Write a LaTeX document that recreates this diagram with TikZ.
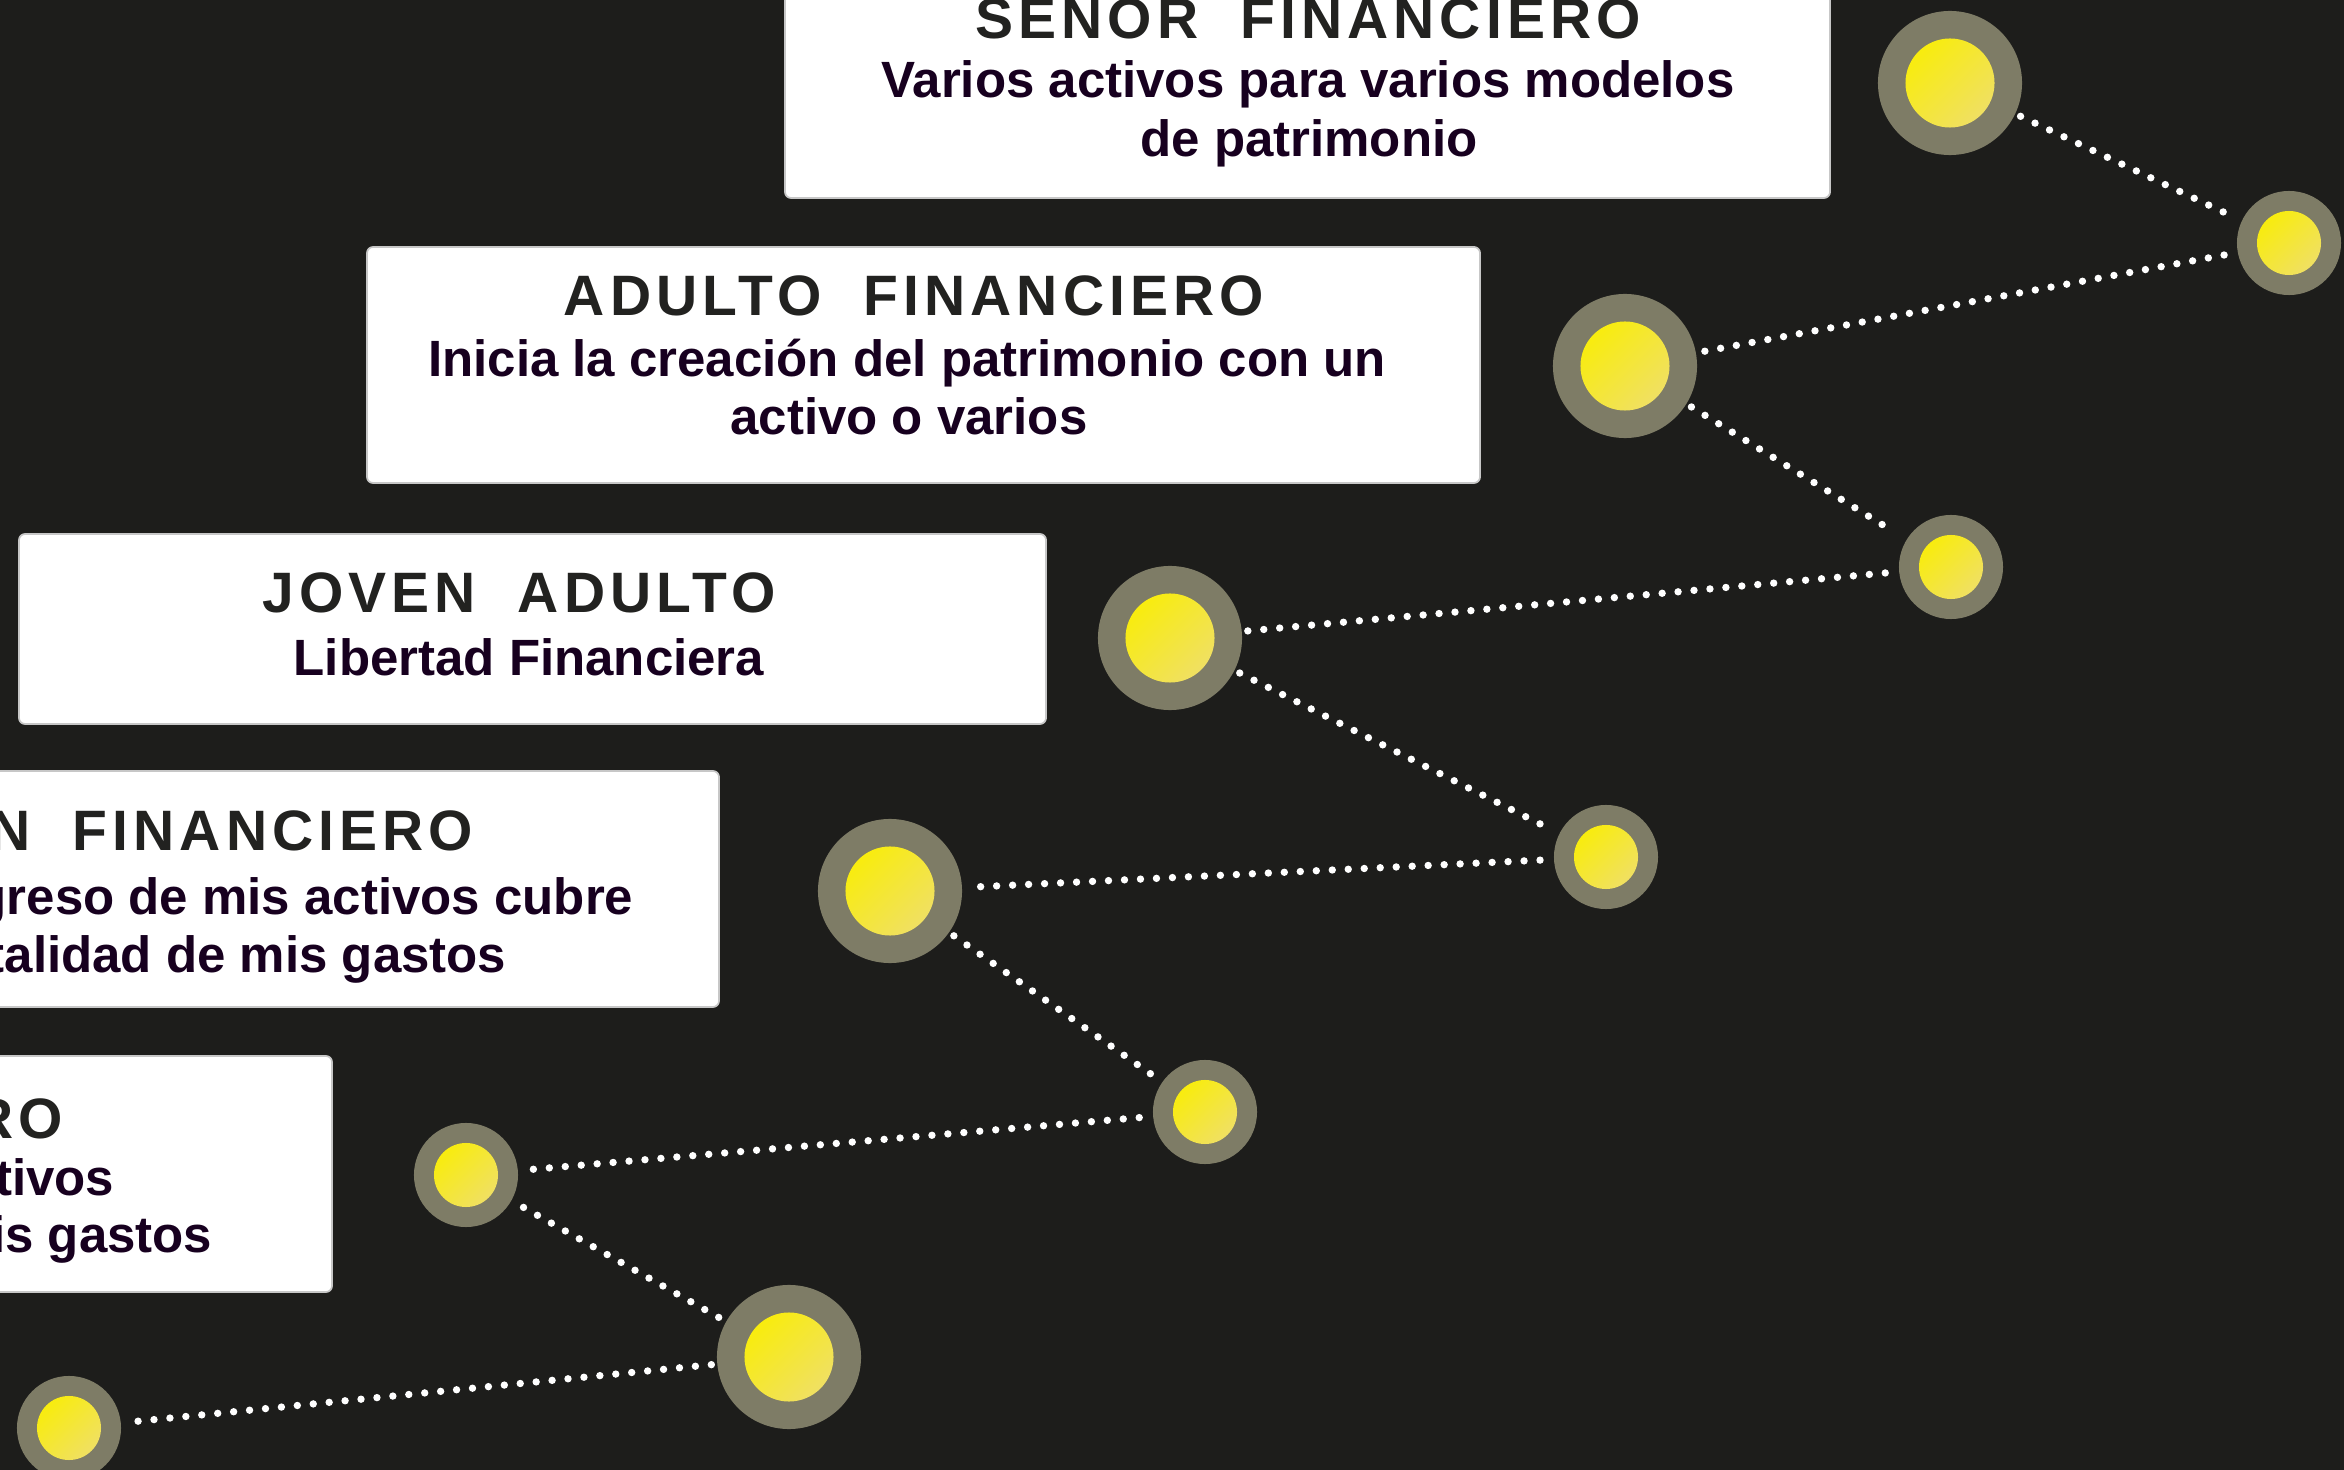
\documentclass[tikz,border=0pt]{standalone}
\usepackage{fontspec}
\setmainfont{Liberation Sans}
\newfontfamily\ttlfont[LetterSpace=9]{Liberation Sans}
\definecolor{bgc}{HTML}{1D1D1B}
\definecolor{ringc}{HTML}{7E7C66}
\definecolor{yelA}{HTML}{F8EC0E}
\definecolor{yelB}{HTML}{F0E062}
\definecolor{ttlc}{HTML}{222220}
\definecolor{subc}{HTML}{17001F}
\tikzset{
  card/.style={fill=white, draw=black!22, line width=0.5pt, rounded corners=0.06cm},
  ttl/.style={text=ttlc, font=\ttlfont\bfseries\fontsize{16.2}{19}\selectfont, inner sep=0pt},
  sub/.style={text=subc, font=\bfseries\fontsize{14.5}{17}\selectfont, inner sep=0pt},
  bigring/.style={circle, fill=ringc, minimum size=1.44cm, inner sep=0pt, outer sep=0.06cm},
  bigcore/.style={circle, top color=yelA, bottom color=yelB, shading angle=45, minimum size=0.89cm, inner sep=0pt},
  smallring/.style={circle, fill=ringc, minimum size=1.04cm, inner sep=0pt, outer sep=0.14cm},
  smallcore/.style={circle, top color=yelA, bottom color=yelB, shading angle=45, minimum size=0.64cm, inner sep=0pt},
  dots/.style={draw=white, line width=2.1pt, line cap=round, dash pattern=on 0pt off 4.55pt}
}
\begin{document}
\begin{tikzpicture}[x=0.01cm, y=-0.01cm]
\useasboundingbox (0,0) rectangle (2344,1470);
\fill[bgc] (0,0) rectangle (2344,1470);

% cards
\draw[card] (785,-30) rectangle (1830,198);
\draw[card] (367,247) rectangle (1480,483);
\draw[card] (19,534) rectangle (1046,724);
\draw[card] (-40,771) rectangle (719,1007);
\draw[card] (-40,1056) rectangle (332,1292);

% texts card 1
\node[ttl, anchor=base] (t1) at (1308,39) {SENOR~~FINANCIERO};
\node[sub, anchor=base] (s1a) at (1308,98) {Varios activos para varios modelos};
\node[sub, anchor=base] (s1b) at (1309,157) {de patrimonio};
% card 2
\node[ttl, anchor=base] (t2) at (914,316) {ADULTO~~FINANCIERO};
\node[sub, anchor=base] (s2a) at (907,377) {Inicia la creación del patrimonio con un};
\node[sub, anchor=base] (s2b) at (909,435) {activo o varios};
% card 3
\node[ttl, anchor=base] (t3) at (519,613) {JOVEN~~ADULTO};
\node[sub, anchor=base] (s3a) at (529,676) {Libertad Financiera};
% card 4
\node[ttl, anchor=base east] (t4) at (474,851) {N~~FINANCIERO};
\node[sub, anchor=base east] (s4a) at (634,915) {greso de mis activos cubre};
\node[sub, anchor=base east] (s4b) at (507,972) {talidad de mis gastos};
% card 5
\node[ttl, anchor=base east] (t5) at (64,1139) {RO};
\node[sub, anchor=base east] (s5a) at (115,1195) {tivos};
\node[sub, anchor=base east] (s5b) at (213,1252) {is gastos};

% circles
\node[bigring]   (c1)  at (1950,83) {};
\node[smallring] (c2)  at (2289,243) {};
\node[bigring]   (c3)  at (1625,366) {};
\node[smallring] (c4)  at (1951,567) {};
\node[bigring]   (c5)  at (1170,638) {};
\node[smallring] (c6)  at (1606,857) {};
\node[bigring]   (c7)  at (890,891) {};
\node[smallring] (c8)  at (1205,1112) {};
\node[smallring] (c9)  at (466,1175) {};
\node[bigring]   (c10) at (789,1357) {};
\node[smallring] (c11) at (69,1428) {};

\node[bigcore]   (y1)  at (c1.center) {};
\node[smallcore] (y2)  at (c2.center) {};
\node[bigcore]   (y3)  at (c3.center) {};
\node[smallcore] (y4)  at (c4.center) {};
\node[bigcore]   (y5)  at (c5.center) {};
\node[smallcore] (y6)  at (c6.center) {};
\node[bigcore]   (y7)  at (c7.center) {};
\node[smallcore] (y8)  at (c8.center) {};
\node[smallcore] (y9)  at (c9.center) {};
\node[bigcore]   (y10) at (c10.center) {};
\node[smallcore] (y11) at (c11.center) {};

% connectors
\draw[dots] (c1) -- (c2);
\draw[dots] (c2) -- (c3);
\draw[dots] (c3) -- (c4);
\draw[dots] (c4) -- (c5);
\draw[dots] (c5) -- (c6);
\draw[dots] (c6) -- (c7);
\draw[dots] (c7) -- (c8);
\draw[dots] (c8) -- (c9);
\draw[dots] (c9) -- (c10);
\draw[dots] (c10) -- (c11);
\end{tikzpicture}
\end{document}
